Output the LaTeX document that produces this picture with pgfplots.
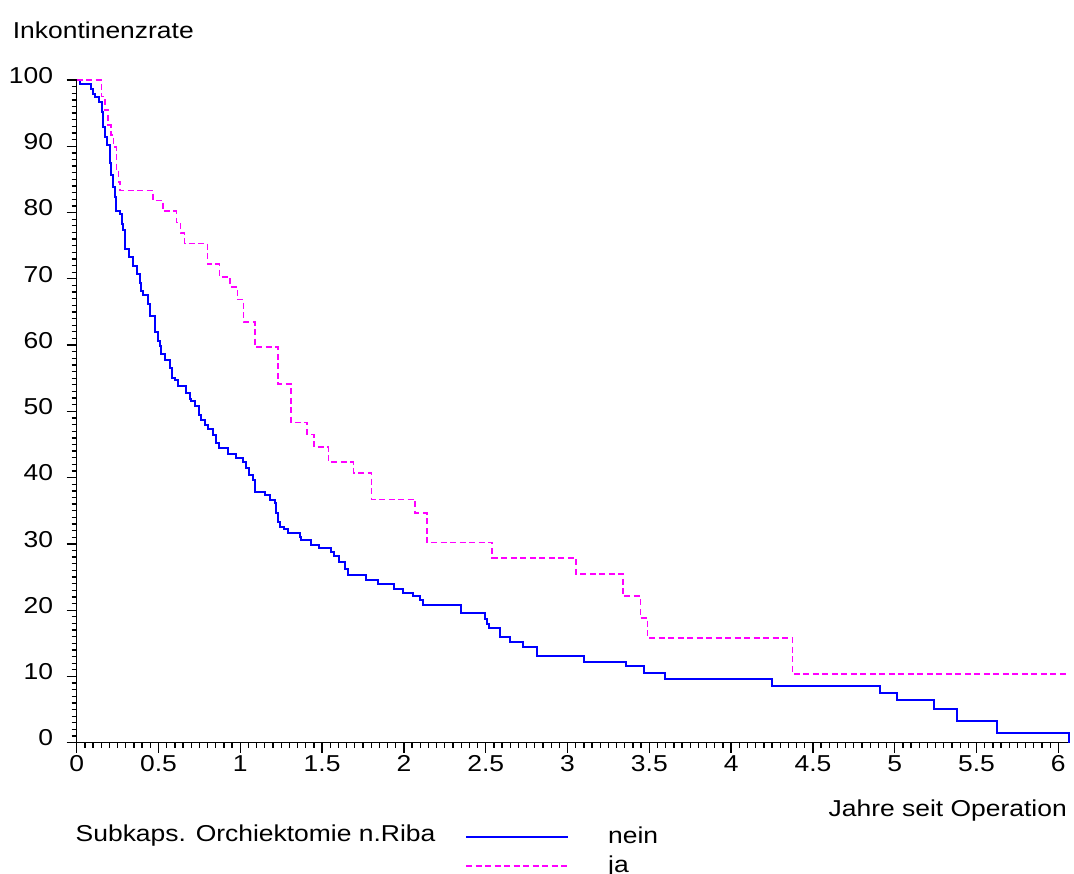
\documentclass[border=0pt]{standalone}
\usepackage{fontspec}
\setmainfont{Liberation Sans}[FakeStretch=1.15]
\usepackage{pgfplots}
\pgfplotsset{compat=1.18}
\newcommand\chartfont{\fontsize{23bp}{27bp}\selectfont}
\definecolor{kmblue}{RGB}{0,0,255}
\definecolor{kmmag}{RGB}{255,0,255}
\begin{document}
\begin{tikzpicture}
\useasboundingbox (0,0) rectangle (1074bp,874bp);
\begin{axis}[
  at={(76.7bp,131.3bp)}, anchor=south west,
  scale only axis, width=992.6bp, height=662.7bp,
  xmin=0, xmax=6.067, ymin=0, ymax=100,
  clip=false,
  axis x line*=bottom, axis y line*=left,
  axis line style={-, line width=1.5bp, black},
  xtick={0,0.5,1,1.5,2,2.5,3,3.5,4,4.5,5,5.5,6},
  ytick={0,10,20,30,40,50,60,70,80,90,100},
  minor x tick num=9, minor y tick num=9,
  tick align=outside, major tick length=10bp, minor tick length=5bp,
  every tick/.style={black, line width=1.3bp},
  /pgf/number format/assume math mode=true,
  x tick label style={font=\chartfont, inner sep=0pt, anchor=north, yshift=-2.3bp},
  y tick label style={font=\chartfont, inner sep=0pt, anchor=east, xshift=-13.4bp, yshift=4.7bp},
  xlabel={Jahre seit Operation},
  xlabel style={at={(axis description cs:0.9977,-0.1117)}, anchor=base east, inner sep=0pt, font=\chartfont},
  ylabel={Inkontinenzrate},
  ylabel style={at={(axis description cs:-0.0645,1.0629)}, rotate=-90, anchor=base west, inner sep=0pt, font=\chartfont},
  legend style={at={(axis description cs:0.3912,-0.1257)}, anchor=north west, draw=none, fill=none,
    inner sep=0pt, font=\chartfont, row sep=7bp, column sep=39bp,
    nodes={inner sep=0pt, text height=17bp, text depth=5bp}},
  legend cell align=left,
  legend image code/.code={\draw[#1] (0bp,0bp) -- (102bp,0bp);},
]
\addplot[const plot, color=kmblue, line width=2bp] coordinates {
(0,100) (0.02,99.4) (0.09,98.7) (0.10,97.9) (0.112,97.4) (0.138,96.7) (0.152,95.2)
(0.163,92.9) (0.173,91.4) (0.183,90.2) (0.203,87.4) (0.209,85.6) (0.22,83.8) (0.234,82.4)
(0.24,80.3) (0.264,79.8) (0.274,78.3) (0.285,77.3) (0.295,74.5) (0.321,73.3) (0.342,71.9)
(0.366,70.7) (0.386,69.4) (0.396,68.2) (0.407,67.6) (0.433,66.2) (0.447,64.4) (0.478,61.9)
(0.494,60.6) (0.508,59.8) (0.518,58.6) (0.539,57.8) (0.569,56.6) (0.585,55.0) (0.60,54.8)
(0.62,53.8) (0.671,52.8) (0.691,51.8) (0.70,51.5) (0.722,50.8) (0.745,49.5) (0.762,48.7)
(0.783,48.0) (0.80,47.3) (0.835,46.5) (0.85,45.2) (0.87,44.5) (0.925,43.6) (0.976,42.9)
(1.016,42.4) (1.037,41.4) (1.055,40.4) (1.075,39.6) (1.09,37.9) (1.148,37.4) (1.179,36.6)
(1.209,36.1) (1.218,34.6) (1.232,33.3) (1.24,32.6) (1.266,32.3) (1.29,31.6) (1.362,31.1)
(1.372,30.6) (1.433,29.9) (1.484,29.4) (1.555,28.8) (1.575,28.2) (1.606,27.3) (1.64,26.2)
(1.656,25.3) (1.768,24.5) (1.839,23.9) (1.941,23.2) (1.992,22.6) (2.053,22.1) (2.098,21.5)
(2.114,20.8) (2.347,19.5) (2.496,18.7) (2.51,17.9) (2.52,17.3) (2.586,16.4) (2.59,16.0)
(2.646,15.2) (2.73,14.4) (2.815,13.1) (3.1,12.2) (3.36,11.5) (3.465,10.5) (3.593,9.6)
(4.248,8.6) (4.909,7.5) (5.016,6.4) (5.24,5.1) (5.38,3.2) (5.624,1.4) (6.065,0)
};
\addlegendentry{nein}
\addplot[const plot, color=kmmag, line width=1.6bp, dash pattern=on 6bp off 3.5bp] coordinates {
(0,100) (0.152,97.5) (0.172,95.5) (0.193,93.2) (0.209,91.7) (0.224,89.9) (0.244,86.4)
(0.255,84.6) (0.264,83.3) (0.467,81.8) (0.528,80.2) (0.609,78.5) (0.635,76.9) (0.66,75.35)
(0.80,72.2) (0.874,70.3) (0.937,68.8) (0.982,66.9) (1.02,63.5) (1.09,59.7) (1.23,54.1)
(1.31,48.3) (1.409,46.5) (1.451,44.6) (1.538,42.4) (1.693,40.7) (1.803,36.7) (2.069,34.7)
(2.14,30.2) (2.54,27.9) (3.05,25.5) (3.34,22.1) (3.445,18.8) (3.49,15.8) (4.376,10.4)
(6.067,10.4)
};
\addlegendentry{ja}
\node[anchor=base west, inner sep=0pt, font=\chartfont] at (axis description cs:-0.0012,-0.1495) {Subkaps. Orchiektomie n.Riba};
\end{axis}
\end{tikzpicture}
\end{document}
